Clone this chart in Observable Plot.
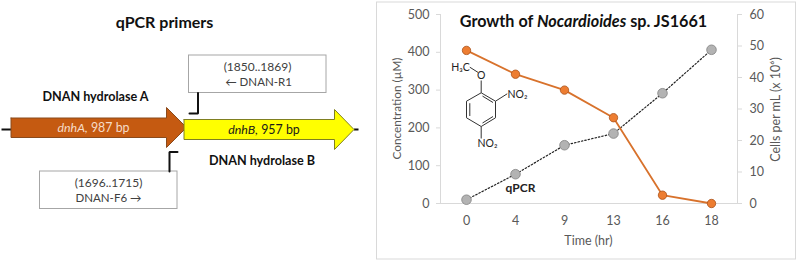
<!DOCTYPE html>
<html>
<head>
<meta charset="utf-8">
<script src="https://cdn.jsdelivr.net/npm/d3@7"></script>
<script src="https://cdn.jsdelivr.net/npm/@observablehq/plot@0.6"></script>
<style>
html,body{margin:0;padding:0;background:#fff}
#root{position:relative;width:796px;height:261px;overflow:hidden}
#root svg{position:absolute;left:0;top:0;background:transparent}
</style>
</head>
<body>
<div id="root"></div>
<script>
// Chart values
const timeLabels = ["0","4","9","13","16","18"];
const concentration = [405,342,300,227,22,0];
const cells = [1.2,9.3,18.5,22.2,35,48.8];
const concTicks = [0,100,200,300,400,500];
const cellTicks = [0,10,20,30,40,50,60];
const concMax = 500, cellMax = 60;
const toConc = v => v * concMax / cellMax;

// Diagram geometry (page units of the schematic)
const geneA = [[10.5,117.5],[166,117.5],[166,107],[186,127],[166,147],[166,137],[10.5,137],[10.5,117.5]];
const geneB = [[183.5,119],[334,119],[334,109],[353.5,129],[334,149],[334,139],[183.5,139],[183.5,119]];
const stubs = [[1,129,10.5,129],[353.5,129,358,129]];
const boxes = [[188.5,55,326,92.5],[39.5,171,177,208.5]];
const brackets = [[[197.5,92.5],[197.5,113],[189,113]],[[169,171],[169,151.5],[177,151.5]]];
const panel = [[376.5,2,795.5,259]];
const boldLabels = [
  {t:"qPCR primers",x:164,y:22,s:16},
  {t:"DNAN hydrolase A",x:95,y:96,s:12.6},
  {t:"DNAN hydrolase B",x:261.5,y:160.5,s:12.6}
];
const plainLabels = [
  {t:"dnhA, 987 bp",x:93,y:127.5,s:12.4,c:"#f6dcc8"},
  {t:"dnhB, 957 bp",x:263.5,y:129.5,s:12.4,c:"#1a1a1a"},
  {t:"(1850..1869)",x:257,y:66.5,s:12,c:"#404040"},
  {t:"← DNAN-R1",x:258,y:82,s:11.5,c:"#404040"},
  {t:"(1696..1715)",x:108,y:183,s:12,c:"#404040"},
  {t:"DNAN-F6 →",x:108,y:198,s:11.5,c:"#404040"}
];
const chartBold = [
  {t:"Growth of Nocardioides sp. JS1661",x:583,y:21.5,s:16.2,c:"#111"},
  {t:"qPCR",x:520,y:187.5,s:12,c:"#222"}
];
const axisTitles = [
  {t:"Concentration (µM)",x:397,y:108,s:11.8,r:-90},
  {t:"Cells per mL (x 10⁶)",x:775,y:109,s:12.5,r:-90},
  {t:"Time (hr)",x:588,y:240,s:12.5,r:0}
];

// Structure of 2,4-dinitroanisole
const bonds = [
  [469.3,66.7,477.7,72],[480.7,80,480.7,92.3],
  [480.7,92.3,495,100.7],[495,100.7,495,117.3],[495,117.3,480.7,126],
  [480.7,126,466,117.3],[466,117.3,466,100.7],[466,100.7,480.7,92.3],
  [469.3,102.7,469.3,115.5],[482,95.6,492.5,102],[482,122.5,492.5,116],
  [495,100.7,506.7,93.3],[480.7,126,480.7,138]
];
const atoms = [
  {t:"H₃C",x:460,y:66.7},
  {t:"O",x:480.7,y:75.3},
  {t:"NO₂",x:517,y:94},
  {t:"NO₂",x:487,y:143.5}
];

const font = "Lato, Carlito, sans-serif";
const textColor = "#595959", axisColor = "#d9d9d9";

const diagram = Plot.plot({
  width:796,height:261,margin:0,
  x:{domain:[0,796],range:[0,796],axis:null},
  y:{domain:[0,261],range:[0,261],axis:null},
  style:{fontFamily:font,background:"transparent"},
  marks:[
    Plot.rect(panel,{x1:d=>d[0],y1:d=>d[1],x2:d=>d[2],y2:d=>d[3],fill:"white",stroke:"#d9d9d9",strokeWidth:1}),
    Plot.link(stubs,{x1:d=>d[0],y1:d=>d[1],x2:d=>d[2],y2:d=>d[3],stroke:"#111",strokeWidth:2}),
    Plot.line(geneA,{x:d=>d[0],y:d=>d[1],fill:"#c55a11",stroke:"#8a4a1c",strokeWidth:1}),
    Plot.line(geneB,{x:d=>d[0],y:d=>d[1],fill:"#ffff00",stroke:"#7f7f20",strokeWidth:1}),
    Plot.rect(boxes,{x1:d=>d[0],y1:d=>d[1],x2:d=>d[2],y2:d=>d[3],fill:"white",stroke:"#a6a6a6",strokeWidth:1}),
    ...brackets.map(b=>Plot.line(b,{x:d=>d[0],y:d=>d[1],stroke:"#111",strokeWidth:2,strokeLinejoin:"miter"})),
    Plot.text(boldLabels,{x:"x",y:"y",text:"t",fontSize:"s",fontWeight:"bold",fill:"#111",textAnchor:"middle"}),
    Plot.text(plainLabels,{x:"x",y:"y",text:"t",fontSize:"s",fill:"c",textAnchor:"middle"}),
    Plot.link(bonds,{x1:d=>d[0],y1:d=>d[1],x2:d=>d[2],y2:d=>d[3],stroke:"#333",strokeWidth:1}),
    Plot.text(atoms,{x:"x",y:"y",text:"t",textAnchor:"middle",fontSize:10.5,fill:"#222"})
  ]
});

const series = timeLabels.map((t,i)=>({t,conc:concentration[i],cells:cells[i]}));

const chart = Plot.plot({
  width:796,height:261,
  marginLeft:440,marginRight:59,marginTop:14,marginBottom:58,
  x:{type:"point",domain:timeLabels,padding:0.5},
  y:{domain:[0,concMax]},
  style:{fontFamily:font,fontSize:"12.5px",background:"transparent",color:textColor},
  marks:[
    Plot.frame({anchor:"left",stroke:axisColor}),
    Plot.frame({anchor:"right",stroke:axisColor}),
    Plot.frame({anchor:"bottom",stroke:axisColor}),
    Plot.axisY({anchor:"left",ticks:concTicks,tickSize:4,tickPadding:7,stroke:axisColor,fill:textColor,label:null}),
    Plot.axisY(cellTicks.map(toConc),{anchor:"right",tickSize:4,tickPadding:8,stroke:axisColor,fill:textColor,
      tickFormat:v=>String(Math.round(v*cellMax/concMax)),label:null}),
    Plot.axisX({tickSize:0,tickPadding:13,fill:textColor,label:null}),
    Plot.line(series,{x:"t",y:d=>toConc(d.cells),stroke:"#222",strokeWidth:1.2,strokeDasharray:"1.5,2"}),
    Plot.line(series,{x:"t",y:"conc",stroke:"#d8722c",strokeWidth:1.8}),
    Plot.dot(series,{x:"t",y:d=>toConc(d.cells),r:4.8,fill:"#b3b3b3",stroke:"#808080",strokeWidth:0.8}),
    Plot.dot(series,{x:"t",y:"conc",r:4.2,fill:"#ed7d31",stroke:"#a9531c",strokeWidth:0.8})
  ]
});

const overlay = Plot.plot({
  width:796,height:261,margin:0,
  x:{domain:[0,796],range:[0,796],axis:null},
  y:{domain:[0,261],range:[0,261],axis:null},
  style:{fontFamily:font,background:"transparent"},
  marks:[
    Plot.text(chartBold,{x:"x",y:"y",text:"t",fontSize:"s",fill:"c",fontWeight:"bold",textAnchor:"middle"}),
    Plot.text(axisTitles.filter(d=>d.r),{x:"x",y:"y",text:"t",fontSize:"s",fill:textColor,rotate:-90,textAnchor:"middle"}),
    Plot.text(axisTitles.filter(d=>!d.r),{x:"x",y:"y",text:"t",fontSize:"s",fill:textColor,textAnchor:"middle"})
  ]
});

const root = document.getElementById("root");
root.append(diagram, chart, overlay);

// Italic runs inside otherwise plain labels
const italics = ["Nocardioides","dnhA,","dnhB,"];
d3.select(root).selectAll("text").each(function(){
  for (const run of italics) {
    const s = this.textContent, i = s.indexOf(run);
    if (i >= 0) {
      this.textContent = "";
      const sel = d3.select(this);
      if (i) sel.append("tspan").text(s.slice(0,i));
      sel.append("tspan").style("font-style","italic").text(run);
      sel.append("tspan").text(s.slice(i+run.length));
    }
  }
});
</script>
</body>
</html>
